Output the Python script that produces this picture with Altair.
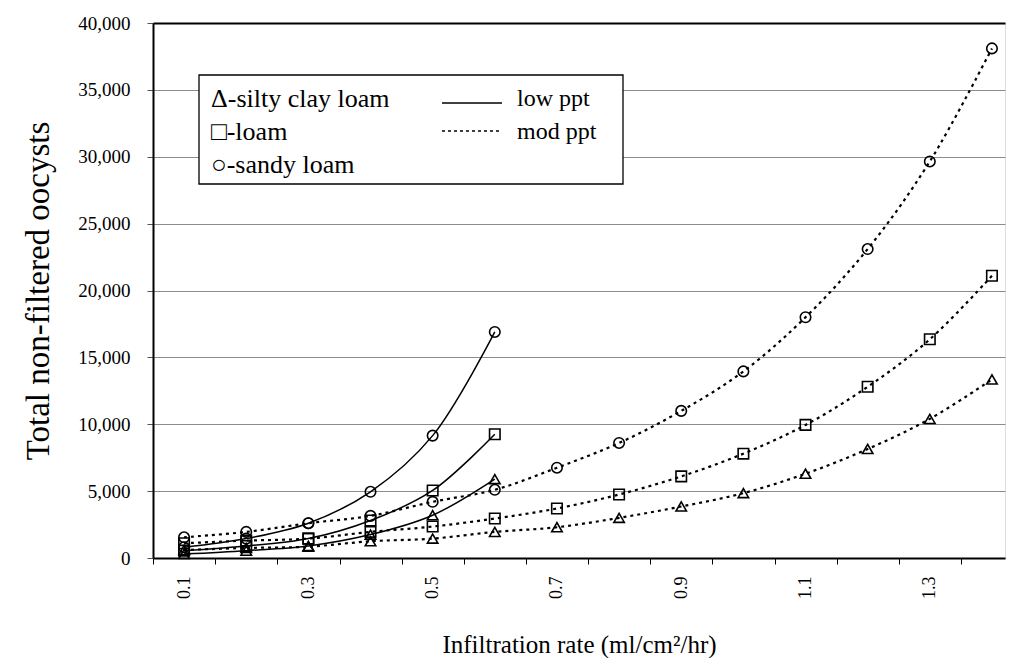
import altair as alt
import pandas as pd

# ---- data ----
rate_low = [0.1, 0.2, 0.3, 0.4, 0.5, 0.6]
rate_mod = [0.1, 0.2, 0.3, 0.4, 0.5, 0.6, 0.7, 0.8, 0.9, 1.0, 1.1, 1.2, 1.3, 1.4]

low_silty = [300, 550, 900, 1750, 3200, 5900]
low_loam = [550, 900, 1450, 2800, 5050, 9250]
low_sandy = [800, 1450, 2600, 4950, 9150, 16900]

mod_silty = [600, 750, 850, 1250, 1450, 1950, 2300, 3000, 3850, 4850, 6300, 8150, 10400, 13350]
mod_loam = [1100, 1300, 1450, 1950, 2350, 2950, 3700, 4750, 6100, 7800, 9950, 12800, 16350, 21100]
mod_sandy = [1550, 1950, 2600, 3150, 4200, 5100, 6750, 8600, 11000, 13950, 18000, 23100, 29650, 38100]

soils = ["silty clay loam", "loam", "sandy loam"]
shapes = ["triangle-up", "square", "circle"]
x_labels = [0.1, 0.3, 0.5, 0.7, 0.9, 1.1, 1.3]
y_ticks = [0, 5000, 10000, 15000, 20000, 25000, 30000, 35000, 40000]

legend_soil = ["\u0394-silty clay loam", "\u25a1-loam", "\u25cb-sandy loam"]
legend_ppt = ["low ppt", "mod ppt"]

rows = []
for soil, vals in zip(soils, [low_silty, low_loam, low_sandy]):
    for r, v in zip(rate_low, vals):
        rows.append({"rate": r, "count": v, "soil": soil, "ppt": "low", "series": "low " + soil})
for soil, vals in zip(soils, [mod_silty, mod_loam, mod_sandy]):
    for r, v in zip(rate_mod, vals):
        rows.append({"rate": r, "count": v, "soil": soil, "ppt": "mod", "series": "mod " + soil})
df = pd.DataFrame(rows)

FONT = "Liberation Serif, Times New Roman, serif"
W, H = 852, 535

xscale = alt.Scale(domain=[0.05, 1.421], nice=False, zero=False)
yscale = alt.Scale(domain=[0, 40000], nice=False)

label_list = "[" + ",".join(str(v) for v in x_labels) + "]"
xaxis = alt.Axis(
    values=rate_mod,
    labelExpr="indexof(" + label_list + ", round(datum.value*10)/10) >= 0 ? format(datum.value, '.1f') : ''",
    tickOffset=-31, labelOffset=31,
    labelAngle=-90,
    labelFont=FONT, labelFontSize=18, labelColor="black",
    labelPadding=12, tickSize=6, tickColor="black", tickWidth=1,
    domainColor="black", domainWidth=2, grid=False,
    title="Infiltration rate (ml/cm\u00b2/hr)", titleFont=FONT, titleFontSize=25,
    titleFontWeight="normal", titleColor="black", titleY=86, titleBaseline="middle",
    labelOverlap=False,
)
yaxis = alt.Axis(
    values=y_ticks, format=",.0f",
    labelFont=FONT, labelFontSize=19, labelColor="black", labelPadding=17,
    tickSize=6, tickColor="#555", domainColor="black", domainWidth=2,
    grid=True,
    gridColor={"condition": {"test": "datum.value >= 40000", "value": "black"}, "value": "#8c8c8c"},
    gridWidth={"condition": {"test": "datum.value >= 40000", "value": 2}, "value": 1},
    title="Total non-filtered oocysts", titleFont=FONT, titleFontSize=33,
    titleFontWeight="normal", titleColor="black",
    titleX=-115, titleY=H / 2, titleBaseline="middle", titleAlign="center", titleAngle=-90,
)

base = alt.Chart(df)

low_lines = base.transform_filter("datum.ppt == 'low'").mark_line(
    color="black", strokeWidth=1.5, interpolate="catmull-rom"
).encode(
    x=alt.X("rate:Q", scale=xscale, axis=xaxis),
    y=alt.Y("count:Q", scale=yscale, axis=yaxis),
    detail="series:N",
)
mod_lines = base.transform_filter("datum.ppt == 'mod'").mark_line(
    color="black", strokeWidth=2.2, strokeDash=[3, 4], interpolate="catmull-rom"
).encode(
    x=alt.X("rate:Q", scale=xscale),
    y=alt.Y("count:Q", scale=yscale),
    detail="series:N",
)
points = base.mark_point(filled=False, color="black", strokeWidth=1.6, size=110, opacity=1).encode(
    x=alt.X("rate:Q", scale=xscale),
    y=alt.Y("count:Q", scale=yscale),
    shape=alt.Shape("soil:N", scale=alt.Scale(domain=soils, range=shapes), legend=None),
)

one = pd.DataFrame({"a": [0]})
box = alt.Chart(one).mark_rect(fill="white", stroke="black", strokeWidth=1.3).encode(
    x=alt.value(46), x2=alt.value(470), y=alt.value(52), y2=alt.value(161)
)
legend_layers = [box]
for i, t in enumerate(legend_soil):
    legend_layers.append(
        alt.Chart(one).mark_text(text=t, font=FONT, fontSize=26, align="left", baseline="middle", color="black")
        .encode(x=alt.value(58), y=alt.value(76 + i * 33))
    )
for i, t in enumerate(legend_ppt):
    legend_layers.append(
        alt.Chart(one).mark_text(text=t, font=FONT, fontSize=24, align="left", baseline="middle", color="black")
        .encode(x=alt.value(364), y=alt.value(76 + i * 33))
    )
legend_layers.append(
    alt.Chart(one).mark_rule(color="black", strokeWidth=1.3).encode(
        x=alt.value(289), x2=alt.value(349), y=alt.value(80))
)
legend_layers.append(
    alt.Chart(one).mark_rule(color="black", strokeWidth=1.3, strokeDash=[3, 3]).encode(
        x=alt.value(289), x2=alt.value(349), y=alt.value(108))
)

chart = alt.layer(low_lines, mod_lines, points, *legend_layers).properties(
    width=W, height=H,
    autosize=alt.AutoSizeParams(type="none"),
    padding={"left": 145, "top": 15, "right": 2, "bottom": 100},
).configure_view(stroke=None).configure(background="white")

chart.save("out.html", embed_options={"renderer": "svg", "actions": False})
